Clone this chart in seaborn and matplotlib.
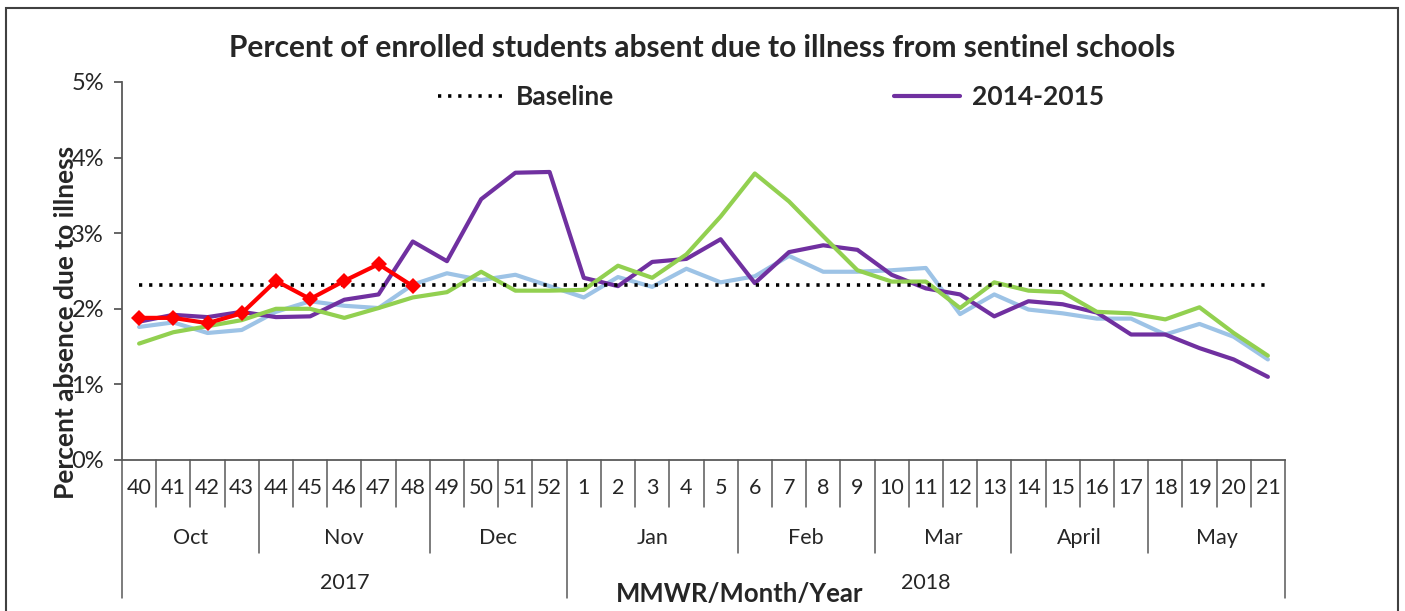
import numpy as np
import pandas as pd
import matplotlib
matplotlib.use("Agg")
import matplotlib.pyplot as plt
import seaborn as sns
from matplotlib.lines import Line2D
from matplotlib.patches import Rectangle
from matplotlib.ticker import FuncFormatter

# MMWR weeks of the school season
weeks = list(range(40, 53)) + list(range(1, 22))
month_names = ["Oct", "Nov", "Dec", "Jan", "Feb", "Mar", "April", "May"]
month_sizes = [4, 5, 4, 5, 4, 4, 4, 4]
year_names = ["2017", "2018"]
year_sizes = [13, 21]

# percent absent
baseline_pct = 2.32
season_2014_15 = [1.83, 1.92, 1.89, 1.96, 1.89, 1.90, 2.12, 2.19, 2.89, 2.63, 3.45, 3.80, 3.81,
                  2.41, 2.30, 2.62, 2.66, 2.92, 2.34, 2.75, 2.84, 2.78, 2.45, 2.27, 2.19, 1.90,
                  2.10, 2.06, 1.95, 1.66, 1.66, 1.48, 1.33, 1.10]
season_2015_16 = [1.54, 1.69, 1.77, 1.85, 2.00, 2.00, 1.88, 2.01, 2.15, 2.22, 2.49, 2.24, 2.24,
                  2.25, 2.57, 2.41, 2.72, 3.22, 3.79, 3.42, 2.96, 2.51, 2.36, 2.36, 2.01, 2.35,
                  2.24, 2.22, 1.96, 1.94, 1.86, 2.02, 1.68, 1.38]
season_2016_17 = [1.76, 1.82, 1.68, 1.72, 1.96, 2.10, 2.04, 2.01, 2.32, 2.47, 2.38, 2.45, 2.30,
                  2.15, 2.42, 2.29, 2.53, 2.35, 2.43, 2.70, 2.49, 2.49, 2.51, 2.54, 1.93, 2.19,
                  1.99, 1.94, 1.87, 1.87, 1.66, 1.80, 1.63, 1.33]
season_2017_18 = [1.88, 1.88, 1.81, 1.94, 2.37, 2.13, 2.37, 2.59, 2.30]

sns.set_theme(style="white")
plt.rcParams["font.family"] = ["Lato", "DejaVu Sans"]

axis_grey = "#595959"
dots = (0, (0.9, 1.9))
fig = plt.figure(figsize=(14.05, 6.11), dpi=100)
ax = fig.add_axes([122 / 1405, 1 - 460 / 611, 1163 / 1405, 378 / 611])

pos = np.arange(len(weeks))
sns.lineplot(x=pos, y=season_2016_17, color="#9DC3E6", linewidth=3, ax=ax)
sns.lineplot(x=pos, y=season_2014_15, color="#7030A0", linewidth=3, ax=ax)
sns.lineplot(x=pos, y=season_2015_16, color="#92D050", linewidth=3, ax=ax)
sns.lineplot(x=pos, y=[baseline_pct] * len(weeks), color="black", linewidth=2.6,
             linestyle=dots, ax=ax)
sns.lineplot(x=pos[:len(season_2017_18)], y=season_2017_18, color="#FF0000", linewidth=3,
             marker="D", markersize=8, markeredgewidth=0, ax=ax)

ax.set_xlim(-0.5, len(weeks) - 0.5)
ax.set_ylim(0, 5)
ax.set_yticks(range(6))
ax.yaxis.set_major_formatter(FuncFormatter(lambda v, _: f"{v:.0f}%"))
ax.tick_params(axis="y", direction="out", length=6, width=1.3, color=axis_grey,
               labelsize=17, pad=7, left=True)
ax.set_xticks(pos)
ax.set_xticklabels([str(w) for w in weeks], fontsize=15.5)
ax.tick_params(axis="x", length=0, pad=13)
for side in ["top", "right"]:
    ax.spines[side].set_visible(False)
for side in ["left", "bottom"]:
    ax.spines[side].set_color(axis_grey)
    ax.spines[side].set_linewidth(1.3)
ax.grid(False)

# multi-level category axis: week / month / year
trans = ax.get_xaxis_transform()
week_bottom, month_bottom, year_bottom = -0.124, -0.246, -0.365
month_edges = np.cumsum([0] + month_sizes) - 0.5
year_edges = np.cumsum([0] + year_sizes) - 0.5
for e in np.arange(len(weeks) + 1) - 0.5:
    if e in year_edges:
        bottom = year_bottom
    elif e in month_edges:
        bottom = month_bottom
    else:
        bottom = week_bottom
    ax.plot([e, e], [0, bottom], transform=trans, color=axis_grey, lw=1.1, clip_on=False)
for name, a, b in zip(month_names, month_edges[:-1], month_edges[1:]):
    ax.text((a + b) / 2, -0.206, name, transform=trans, ha="center", va="center", fontsize=15.5)
for name, a, b in zip(year_names, year_edges[:-1], year_edges[1:]):
    ax.text((a + b) / 2, -0.325, name, transform=trans, ha="center", va="center", fontsize=15.5)

ax.set_xlabel("")
fig.text(740 / 1405, 1 - 594 / 611, "MMWR/Month/Year", ha="center", va="center",
         fontsize=18.5, fontweight="bold")
ax.set_ylabel("Percent absence due to illness", fontsize=19, fontweight="bold")
ax.yaxis.set_label_coords(-0.038, 0.365)

fig.text(702 / 1405, 1 - 48 / 611,
         "Percent of enrolled students absent due to illness from sentinel schools",
         ha="center", va="center", fontsize=21.5, fontweight="bold")

handles = [Line2D([], [], color="black", lw=2.6, linestyle=dots),
           Line2D([], [], color="#7030A0", lw=3)]
ax.legend(handles, ["Baseline", "2014-2015"], ncol=2, frameon=False,
          loc="center left", bbox_to_anchor=((438 - 122) / 1163, (460 - 97) / 378),
          prop={"weight": "bold", "size": 19}, handlelength=2.5, handletextpad=0.45,
          columnspacing=10.6, borderaxespad=0, borderpad=0)

fig.add_artist(Rectangle((6 / 1405, -0.05), 1392 / 1405, 1.05 - 8 / 611,
                         transform=fig.transFigure, fill=False, edgecolor="#404040", lw=1.5))

fig.savefig("out.png", dpi=100)
